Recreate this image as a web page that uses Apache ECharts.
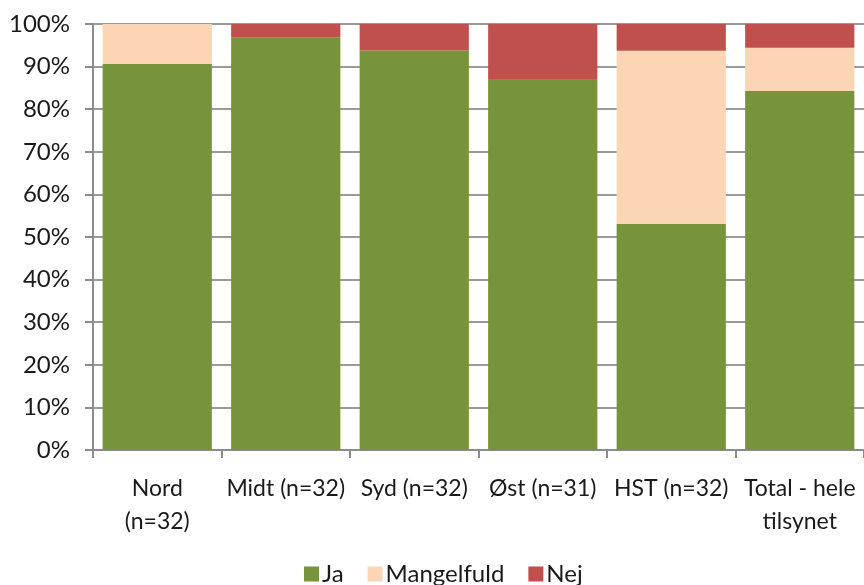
<!DOCTYPE html>
<html><head><meta charset="utf-8">
<script src="https://cdn.jsdelivr.net/npm/echarts@6/dist/echarts.min.js"></script>
<style>html,body{margin:0;padding:0;background:#fff}#c{width:864px;height:585px}</style>
</head><body><div id="c"></div>
<script>
const categories = ["Nord\n(n=32)", "Midt (n=32)", "Syd (n=32)", "Øst (n=31)", "HST (n=32)", "Total - hele\ntilsynet"];
const ja = [90.6, 96.9, 93.8, 87.1, 53.1, 84.3];
const mangelfuld = [9.4, 0, 0, 0, 40.6, 10.1];
const nej = [0, 3.1, 6.2, 12.9, 6.3, 5.6];
const yTicks = [0, 10, 20, 30, 40, 50, 60, 70, 80, 90, 100];

const chart = echarts.init(document.getElementById('c'));
const font = 'Lato, Open Sans, sans-serif';
const mk = (name, data, color) => ({
  name, type: 'bar', stack: 's', data, barCategoryGap: '15%',
  itemStyle: { color }, emphasis: { disabled: true }
});
chart.setOption({
  animation: false,
  textStyle: { fontFamily: font },
  grid: { left: 93, right: 0, top: 24, bottom: 135, containLabel: false },
  legend: {
    top: 557, left: 299, itemWidth: 15, itemHeight: 15, itemGap: 24,
    icon: 'rect',
    textStyle: { fontSize: 24, color: '#1a1a1a', fontFamily: font, padding: [0, 0, 0, -2] },
    data: ['Ja', 'Mangelfuld', 'Nej']
  },
  xAxis: {
    type: 'category', data: categories,
    axisLine: { lineStyle: { color: '#8c8c8c', width: 2 } },
    axisTick: { show: true, length: 8, lineStyle: { color: '#8c8c8c', width: 2 } },
    axisLabel: { fontSize: 23, color: '#1a1a1a', margin: 22, lineHeight: 33, interval: 0 }
  },
  yAxis: {
    type: 'value', min: 0, max: 100, interval: 10,
    axisLine: { show: true, lineStyle: { color: '#8c8c8c', width: 2 } },
    axisTick: { show: true, length: 8, lineStyle: { color: '#8c8c8c', width: 2 } },
    splitLine: { lineStyle: { color: '#9a9a9a', width: 2 } },
    axisLabel: { fontSize: 24, color: '#1a1a1a', margin: 23,
      formatter: v => yTicks.includes(v) ? v + '%' : '' }
  },
  series: [
    mk('Ja', ja, '#77933C'),
    mk('Mangelfuld', mangelfuld, '#FCD5B5'),
    mk('Nej', nej, '#C0504D')
  ]
});
</script></body></html>
